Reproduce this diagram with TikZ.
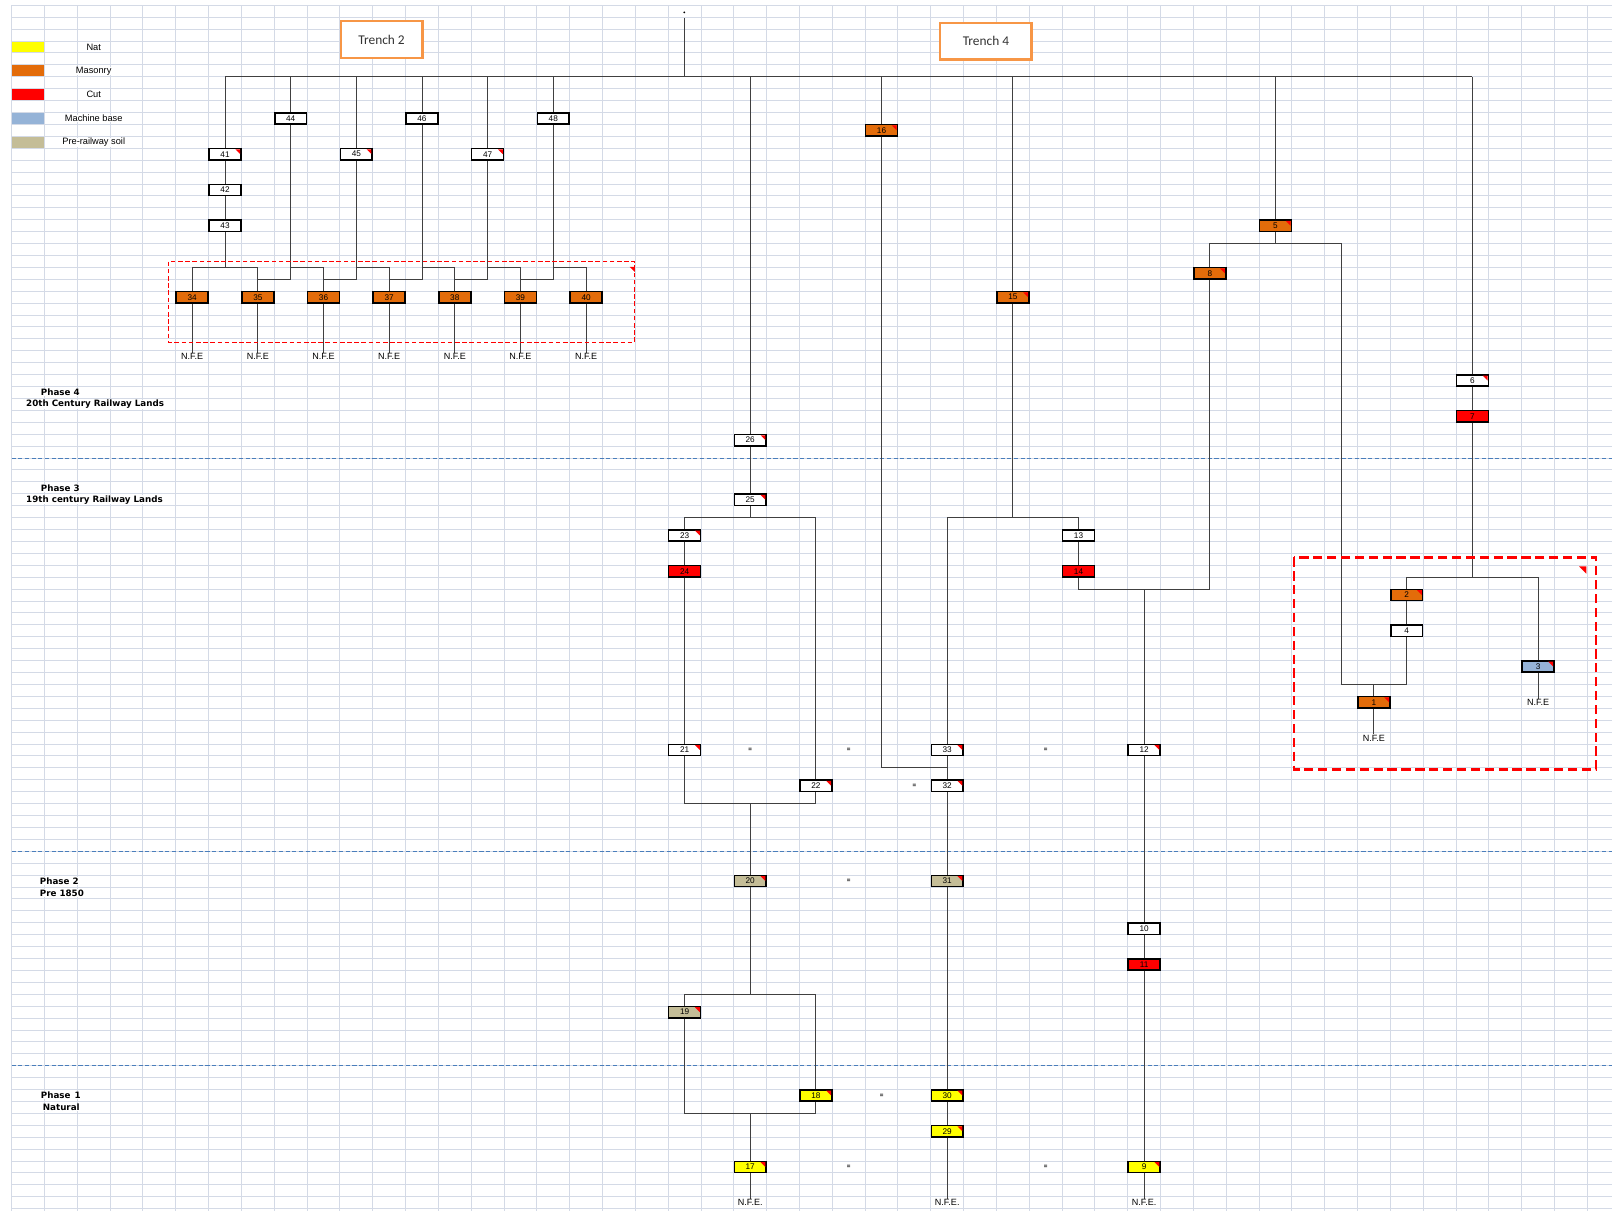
\documentclass[tikz,border=0pt]{standalone}
\usepackage{fontspec}
\setmainfont{Liberation Sans}
\newfontfamily\carlito{Carlito}
\newfontfamily\dejavu{DejaVu Sans}
\definecolor{masonry}{HTML}{E36C0A}
\definecolor{cutred}{HTML}{FF0000}
\definecolor{natyel}{HTML}{FFFF00}
\definecolor{machblue}{HTML}{95B3D7}
\definecolor{soil}{HTML}{C4BD97}
\definecolor{gridc}{HTML}{D4DAE6}
\definecolor{phasec}{HTML}{4A7EBB}
\definecolor{trenchc}{HTML}{F79646}
\newcommand\colx[1]{27.3+31.93*(#1)}
\newcommand\rowy[1]{-5.1-11.59*(#1+0.5)}
\newcommand\liney[1]{-5.1-11.59*(#1)}
\newcommand\redtri[1]{\fill[cutred] ([xshift=-5.5pt,yshift=-0.75pt]#1.north east) -- ([xshift=-0.75pt,yshift=-0.75pt]#1.north east) -- ([xshift=-0.75pt,yshift=-5.5pt]#1.north east) -- cycle;}
\pgfdeclarelayer{gridl}
\pgfdeclarelayer{conl}
\pgfsetlayers{gridl,conl,main}
\begin{document}
\begin{tikzpicture}[x=1pt,y=1pt,
  unit/.style={draw=black, line width=1.5pt, outer sep=0pt, minimum width=31pt, minimum height=11pt, inner sep=0pt, font=\fontsize{8}{8}\selectfont},
  wbox/.style={unit, fill=white},
  mbox/.style={unit, fill=masonry},
  cbox/.style={unit, fill=cutred},
  nbox/.style={unit, fill=natyel},
  bbox/.style={unit, fill=machblue},
  sbox/.style={unit, fill=soil},
  swatch/.style={minimum width=31pt, minimum height=10.5pt, inner sep=0pt},
  conn/.style={draw=black!75, line width=0.9pt},
  nfe/.style={font=\fontsize{8.8}{8.8}\selectfont, inner sep=0.3pt, fill=white},
  eqs/.style={font=\fontsize{6}{6}\selectfont\bfseries, inner sep=0pt},
  phase/.style={font=\dejavu\fontsize{8.5}{9}\selectfont\bfseries, anchor=west, inner xsep=1pt, inner ysep=0.3pt, fill=white},
  legend/.style={font=\fontsize{9}{9}\selectfont, inner xsep=1pt, inner ysep=0pt, fill=white},
  trench/.style={draw=trenchc, line width=2.2pt, fill=white, inner sep=0pt, font=\carlito\fontsize{13}{13}\selectfont, text=black!80},
  gridline/.style={draw=gridc, line width=0.9pt},
  phaseline/.style={draw=phasec, line width=0.9pt, dash pattern=on 4pt off 2.5pt},
  redthin/.style={draw=cutred, line width=0.9pt, dash pattern=on 4.5pt off 2.5pt},
  redthick/.style={draw=cutred, line width=2.8pt, dash pattern=on 9pt off 4.5pt}
]
\useasboundingbox (0,0) rectangle (1568,-1178);
\begin{pgfonlayer}{gridl}
\fill[white] (0,0) rectangle (1568,-1178);
\foreach \k in {0,...,48} \draw[gridline] ({11.3+31.93*\k},-5.1) -- ({11.3+31.93*\k},-1178);
\foreach \k in {0,...,101} \draw[gridline] (11.3,{\liney{\k}}) -- (1568,{\liney{\k}});
\draw[phaseline] (11.3,{\liney{38}}) -- (1568,{\liney{38}});
\draw[phaseline] (11.3,{\liney{71}}) -- (1568,{\liney{71}});
\draw[phaseline] (11.3,{\liney{89}}) -- (1568,{\liney{89}});
\end{pgfonlayer}

% legend
\node[swatch, fill=natyel] (swnat) at ({\colx{0}},{\rowy{3}}) {};
\node[swatch, fill=masonry] (swmas) at ({\colx{0}},{\rowy{5}}) {};
\node[swatch, fill=cutred] (swcut) at ({\colx{0}},{\rowy{7}}) {};
\node[swatch, fill=machblue] (swmach) at ({\colx{0}},{\rowy{9}}) {};
\node[swatch, fill=soil] (swsoil) at ({\colx{0}},{\rowy{11}}) {};
\node[legend] (lgnat) at ({\colx{2}},{\rowy{3}}) {Nat};
\node[legend] (lgmas) at ({\colx{2}},{\rowy{5}}) {Masonry};
\node[legend] (lgcut) at ({\colx{2}},{\rowy{7}}) {Cut};
\node[legend] (lgmach) at ({\colx{2}},{\rowy{9}}) {Machine base};
\node[legend] (lgsoil) at ({\colx{2}},{\rowy{11}}) {Pre-railway soil};

% phases
\node[phase] (ph4) at (38.6,{\rowy{32}}) {Phase 4};
\node[phase] (ph4b) at (24.3,{\rowy{33}}) {20th Century Railway Lands};
\node[phase] (ph3) at (38.6,{\rowy{40}}) {Phase 3};
\node[phase] (ph3b) at (24.3,{\rowy{41}}) {19th century Railway Lands};
\node[phase] (ph2) at (37.6,{\rowy{73}}) {Phase 2};
\node[phase] (ph2b) at (37.6,{\rowy{74}}) {Pre 1850};
\node[phase] (ph1) at (38.6,{\rowy{91}}) {Phase\hspace{4pt}1};
\node[phase] (ph1b) at (40.5,{\rowy{92}}) {Natural};

% trench labels
\node[trench, minimum width=79.7pt, minimum height=35.7pt] (tr2) at (371.2,-38.5) {Trench 2};
\node[trench, minimum width=88.9pt, minimum height=35.4pt] (tr4) at (959,-40.2) {Trench 4};

% group outlines
\draw[redthin] (163.9,-254.5) rectangle (617.5,-332.8);
\fill[cutred] (612.5,-259.5) -- (617.5,-259.5) -- (617.5,-264.5) -- cycle;
\draw[redthick] (1258.7,-542.2) rectangle (1552.4,-748.3);
\fill[cutred] (1536,-551) -- (1543,-551) -- (1543,-558) -- cycle;

% top point
\node[circle, fill=black, inner sep=0pt, minimum size=2pt] (topdot) at (665.6,-12) {};
\coordinate (topstart) at (665.6,-17.8);

% Trench 2 units
\node[wbox] (u41) at ({\colx{6}},{\rowy{12}}) {41};
\node[wbox] (u42) at ({\colx{6}},{\rowy{15}}) {42};
\node[wbox] (u43) at ({\colx{6}},{\rowy{18}}) {43};
\node[wbox] (u44) at ({\colx{8}},{\rowy{9}}) {44};
\node[wbox] (u45) at ({\colx{10}},{\rowy{12}}) {45};
\node[wbox] (u46) at ({\colx{12}},{\rowy{9}}) {46};
\node[wbox] (u47) at ({\colx{14}},{\rowy{12}}) {47};
\node[wbox] (u48) at ({\colx{16}},{\rowy{9}}) {48};
\node[mbox] (u34) at ({\colx{5}},{\rowy{24}}) {34};
\node[mbox] (u35) at ({\colx{7}},{\rowy{24}}) {35};
\node[mbox] (u36) at ({\colx{9}},{\rowy{24}}) {36};
\node[mbox] (u37) at ({\colx{11}},{\rowy{24}}) {37};
\node[mbox] (u38) at ({\colx{13}},{\rowy{24}}) {38};
\node[mbox] (u39) at ({\colx{15}},{\rowy{24}}) {39};
\node[mbox] (u40) at ({\colx{17}},{\rowy{24}}) {40};
\node[nfe] (f34) at ({\colx{5}},{\rowy{29}}) {N.F.E};
\node[nfe] (f35) at ({\colx{7}},{\rowy{29}}) {N.F.E};
\node[nfe] (f36) at ({\colx{9}},{\rowy{29}}) {N.F.E};
\node[nfe] (f37) at ({\colx{11}},{\rowy{29}}) {N.F.E};
\node[nfe] (f38) at ({\colx{13}},{\rowy{29}}) {N.F.E};
\node[nfe] (f39) at ({\colx{15}},{\rowy{29}}) {N.F.E};
\node[nfe] (f40) at ({\colx{17}},{\rowy{29}}) {N.F.E};

% Trench 4 middle
\node[wbox] (u26) at ({\colx{22}},{\rowy{36}}) {26};
\node[wbox] (u25) at ({\colx{22}},{\rowy{41}}) {25};
\node[wbox] (u23) at ({\colx{20}},{\rowy{44}}) {23};
\node[cbox] (u24) at ({\colx{20}},{\rowy{47}}) {24};
\node[wbox] (u21) at ({\colx{20}},{\rowy{62}}) {21};
\node[wbox] (u22) at ({\colx{24}},{\rowy{65}}) {22};
\node[sbox] (u20) at ({\colx{22}},{\rowy{73}}) {20};
\node[sbox] (u19) at ({\colx{20}},{\rowy{84}}) {19};
\node[nbox] (u18) at ({\colx{24}},{\rowy{91}}) {18};
\node[nbox] (u17) at ({\colx{22}},{\rowy{97}}) {17};
\node[nfe] (f17) at ({\colx{22}},{\rowy{100}}) {N.F.E.};
\node[mbox] (u16) at ({\colx{26}},{\rowy{10}}) {16};
\node[mbox] (u15) at ({\colx{30}},{\rowy{24}}) {15};
\node[wbox] (u13) at ({\colx{32}},{\rowy{44}}) {13};
\node[cbox] (u14) at ({\colx{32}},{\rowy{47}}) {14};
\node[wbox] (u33) at ({\colx{28}},{\rowy{62}}) {33};
\node[wbox] (u32) at ({\colx{28}},{\rowy{65}}) {32};
\node[sbox] (u31) at ({\colx{28}},{\rowy{73}}) {31};
\node[nbox] (u30) at ({\colx{28}},{\rowy{91}}) {30};
\node[nbox] (u29) at ({\colx{28}},{\rowy{94}}) {29};
\node[nfe] (f29) at ({\colx{28}},{\rowy{100}}) {N.F.E.};
\node[wbox] (u12) at ({\colx{34}},{\rowy{62}}) {12};
\node[wbox] (u10) at ({\colx{34}},{\rowy{77}}) {10};
\node[cbox] (u11) at ({\colx{34}},{\rowy{80}}) {11};
\node[nbox] (u9) at ({\colx{34}},{\rowy{97}}) {9};
\node[nfe] (f9) at ({\colx{34}},{\rowy{100}}) {N.F.E.};

% right
\node[mbox] (u5) at ({\colx{38}},{\rowy{18}}) {5};
\node[mbox] (u8) at ({\colx{36}},{\rowy{22}}) {8};
\node[wbox] (u6) at ({\colx{44}},{\rowy{31}}) {6};
\node[cbox] (u7) at ({\colx{44}},{\rowy{34}}) {7};
\node[mbox] (u2) at ({\colx{42}},{\rowy{49}}) {2};
\node[wbox] (u4) at ({\colx{42}},{\rowy{52}}) {4};
\node[bbox] (u3) at ({\colx{46}},{\rowy{55}}) {3};
\node[mbox] (u1) at ({\colx{41}},{\rowy{58}}) {1};
\node[nfe] (f3) at ({\colx{46}},{\rowy{58}}) {N.F.E};
\node[nfe] (f1) at ({\colx{41}},{\rowy{61}}) {N.F.E};

% comment markers
\foreach \n in {41,45,47,26,25,23,21,22,20,19,18,17,16,15,33,32,31,30,29,12,9,5,8,6,2,3,1} {\redtri{u\n}}

% equivalence signs
\node[eqs] (e1) at ({\colx{22}},{\rowy{62}}) {=};
\node[eqs] (e2) at ({\colx{25}},{\rowy{62}}) {=};
\node[eqs] (e3) at ({\colx{31}},{\rowy{62}}) {=};
\node[eqs] (e4) at ({\colx{27}},{\rowy{65}}) {=};
\node[eqs] (e5) at ({\colx{25}},{\rowy{73}}) {=};
\node[eqs] (e6) at ({\colx{26}},{\rowy{91}}) {=};
\node[eqs] (e7) at ({\colx{25}},{\rowy{97}}) {=};
\node[eqs] (e8) at ({\colx{31}},{\rowy{97}}) {=};

% level coordinates
\foreach \k in {6,20,22,23,43,48,49,57,64,67,83,93} {\coordinate (k\k) at (0,{\liney{\k}});}
\coordinate (j40) at ({\colx{40}},0);

\begin{pgfonlayer}{conl}
\draw[conn] (topstart) -- (topdot |- k6);
\draw[conn] (u41 |- k6) -- (u6 |- k6);
\foreach \n in {41,44,45,46,47,48,26,16,15,5,6} {\draw[conn] (u\n) -- (u\n |- k6);}
% trench 2
\draw[conn] (u41) -- (u42);
\draw[conn] (u42) -- (u43);
\draw[conn] (u43) -- (u43 |- k22);
\draw[conn] (u34) |- (u35 |- k22) -- (u35);
\draw[conn] (u44) -- (u44 |- k23) -- (u35 |- k23);
\draw[conn] (u44 |- k22) -- (u36 |- k22) -- (u36);
\draw[conn] (u45) -- (u45 |- k23) -- (u36 |- k23);
\draw[conn] (u45 |- k22) -- (u37 |- k22) -- (u37);
\draw[conn] (u46) -- (u46 |- k23) -- (u37 |- k23);
\draw[conn] (u46 |- k22) -- (u38 |- k22) -- (u38);
\draw[conn] (u47) -- (u47 |- k23) -- (u38 |- k23);
\draw[conn] (u47 |- k22) -- (u39 |- k22) -- (u39);
\draw[conn] (u48) -- (u48 |- k23) -- (u39 |- k23);
\draw[conn] (u48 |- k22) -- (u40 |- k22) -- (u40);
\foreach \n in {34,...,40} {\draw[conn] (u\n) -- (f\n);}
% middle
\draw[conn] (u26) -- (u25);
\draw[conn] (u25) -- (u25 |- k43);
\draw[conn] (u23) |- (u22 |- k43) -- (u22);
\draw[conn] (u23) -- (u24);
\draw[conn] (u24) -- (u21);
\draw[conn] (u21) |- (u22 |- k67) -- (u22);
\draw[conn] (u20 |- k67) -- (u20);
\draw[conn] (u20) -- (u20 |- k83);
\draw[conn] (u19) |- (u18 |- k83) -- (u18);
\draw[conn] (u19) |- (u18 |- k93) -- (u18);
\draw[conn] (u17 |- k93) -- (u17);
\draw[conn] (u17) -- (f17);
\draw[conn] (u16) |- (u32 |- k64);
\draw[conn] (u15) -- (u15 |- k43);
\draw[conn] (u33) |- (u13 |- k43) -- (u13);
\draw[conn] (u33) -- (u32);
\draw[conn] (u32) -- (u31);
\draw[conn] (u31) -- (u30);
\draw[conn] (u30) -- (u29);
\draw[conn] (u29) -- (f29);
\draw[conn] (u13) -- (u14);
\draw[conn] (u14) |- (u8 |- k49) -- (u8);
\draw[conn] (u12 |- k49) -- (u12);
\draw[conn] (u12) -- (u10);
\draw[conn] (u10) -- (u11);
\draw[conn] (u11) -- (u9);
\draw[conn] (u9) -- (f9);
% right
\draw[conn] (u5) -- (u5 |- k20);
\draw[conn] (u8) |- (j40 |- k20) -- (j40 |- k57) -| (u4);
\draw[conn] (u1) -- (u1 |- k57);
\draw[conn] (u6) -- (u7);
\draw[conn] (u7) -- (u7 |- k48);
\draw[conn] (u2) |- (u3 |- k48) -- (u3);
\draw[conn] (u2) -- (u4);
\draw[conn] (u1) -- (f1);
\draw[conn] (u3) -- (f3);
\end{pgfonlayer}
\end{tikzpicture}
\end{document}
